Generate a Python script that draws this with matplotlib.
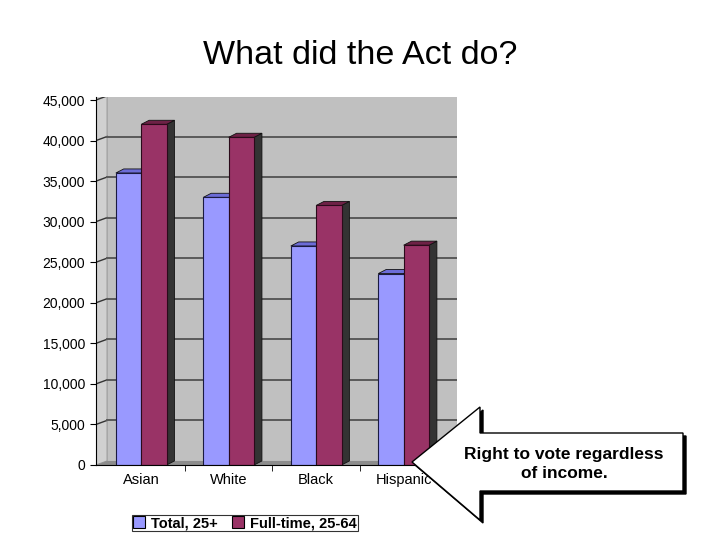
import matplotlib
matplotlib.use("Agg")
import matplotlib.pyplot as plt
from matplotlib.patches import Polygon, Patch

plt.rcParams['font.family'] = ['Liberation Sans', 'DejaVu Sans']

categories = ["Asian", "White", "Black", "Hispanic"]
total_25 = [36000, 33000, 27000, 23600]
fulltime_25_64 = [42000, 40400, 32000, 27100]
series_names = ["Total, 25+", "Full-time, 25-64"]
yticks = [0, 5000, 10000, 15000, 20000, 25000, 30000, 35000, 40000, 45000]
title = "What did the Act do?"
callout = "Right to vote regardless\nof income."

W, H = 720, 540
fig = plt.figure(figsize=(7.2, 5.4), dpi=100)
fig.patch.set_facecolor("white")

def fx(x):
    return x / W
def fy(y):
    return 1 - y / H

ax = fig.add_axes([fx(96), fy(465), (457 - 96) / W, (465 - 97) / H])
ax.set_facecolor("#C0C0C0")

xl, xr = -0.517, 3.61
xw = -0.39
bw = 0.29
dx = 0.09
dy = 500
blue, blue_top = "#9999FF", "#6C6CD8"
red, red_top = "#993366", "#6E2146"
side = "#333333"

# 3D walls and floor
ax.add_patch(Polygon([(xl, 0), (xw, dy), (xw, 46000), (xl, 46000)], closed=True,
                     facecolor="#D0D0D0", edgecolor="#9a9a9a", lw=0.8, zorder=1))
ax.add_patch(Polygon([(xl, 0), (xw, dy), (xr, dy), (xr, 0)], closed=True,
                     facecolor="#8c8c8c", edgecolor="none", zorder=1))
for v in yticks[1:]:
    ax.plot([xl, xw], [v, v + dy], color="#333333", lw=1.0, zorder=2)
    ax.plot([xw, xr], [v + dy, v + dy], color="#5a5a5a", lw=1.4, zorder=2)

for i, (t, f) in enumerate(zip(total_25, fulltime_25_64)):
    for x0, h, c, ct in [(i - bw, t, blue, blue_top), (i, f, red, red_top)]:
        x1 = x0 + bw
        ax.add_patch(Polygon([(x1, 0), (x1, h), (x1 + dx, h + dy), (x1 + dx, dy)],
                             closed=True, facecolor=side, edgecolor="#111111", lw=0.6, zorder=3))
        ax.add_patch(Polygon([(x0, h), (x1, h), (x1 + dx, h + dy), (x0 + dx, h + dy)],
                             closed=True, facecolor=ct, edgecolor="#111111", lw=0.6, zorder=3))
        ax.bar(x0, h, width=bw, align="edge", color=c, edgecolor="#1a1a40" if c == blue else "#2a0a1a",
               lw=0.8, zorder=4)

ax.set_xlim(xl, xr)
ax.set_ylim(0, 45000 + 3 / 365 * 45000)
ax.set_yticks(yticks)
ax.set_yticklabels([f"{v:,}" for v in yticks], fontsize=10)
ax.set_xticks(range(len(categories)))
ax.set_xticklabels(categories, fontsize=10.5)
ax.set_xticks([0.5, 1.5, 2.5], minor=True)
ax.tick_params(axis="x", which="major", length=0, pad=6)
ax.tick_params(axis="x", which="minor", length=4, color="black", direction="out")
ax.tick_params(axis="y", length=4, color="black", direction="out", pad=4)
for s in ["top", "right"]:
    ax.spines[s].set_visible(False)
ax.spines["left"].set_color("black")
ax.spines["bottom"].set_color("black")
ax.spines["left"].set_zorder(5)
ax.spines["bottom"].set_zorder(5)

fig.text(0.5, fy(56), title, ha="center", va="center", fontsize=24.5)

handles = [Patch(facecolor=blue, edgecolor="black", lw=0.8),
           Patch(facecolor=red, edgecolor="black", lw=0.8)]
leg = fig.legend(handles, series_names, loc="center", bbox_to_anchor=(fx(245), fy(523)),
                 ncol=2, frameon=True, fancybox=False, handlelength=0.8,
                 handleheight=0.8, handletextpad=0.4, columnspacing=1.0, borderpad=0.1,
                 borderaxespad=0, prop={"weight": "bold", "size": 10.5})
leg.get_frame().set_edgecolor("black")
leg.get_frame().set_linewidth(0.8)

arrow_px = [(412, 462), (480, 407), (480, 433), (683, 433), (683, 491), (480, 491), (480, 520)]
shadow_px = [(x + 3, y + 3) for x, y in arrow_px]
fig.add_artist(Polygon([(fx(x), fy(y)) for x, y in shadow_px], closed=True,
                       transform=fig.transFigure, facecolor="black", edgecolor="black", lw=1, zorder=10))
fig.add_artist(Polygon([(fx(x), fy(y)) for x, y in arrow_px], closed=True,
                       transform=fig.transFigure, facecolor="white", edgecolor="black", lw=1, zorder=11))
fig.text(fx(564), fy(464), callout, ha="center", va="center", fontsize=12.5,
         fontweight="bold", linespacing=1.35, zorder=12)

fig.savefig("out.png", dpi=100)
